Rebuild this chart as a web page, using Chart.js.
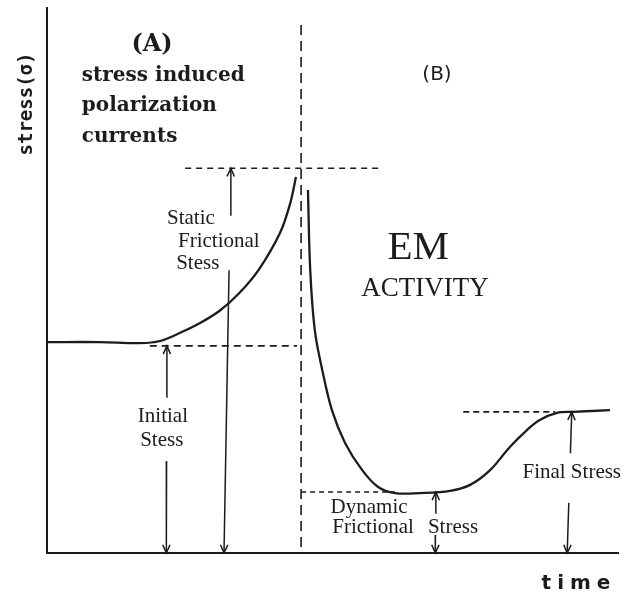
<!DOCTYPE html>
<html>
<head>
<meta charset="utf-8">
<script src="https://cdn.jsdelivr.net/npm/chart.js@4/dist/chart.umd.min.js"></script>
<style>
  html, body { margin: 0; padding: 0; background: #fff; }
  #wrap { width: 627px; height: 598px; }
</style>
</head>
<body>
<div id="wrap"><canvas id="chart" width="627" height="598"></canvas></div>
<script>
// Stress vs time (schematic), time and stress in arbitrary units 0..100

// stage A: stress build-up before slip
const stageATime   = [0, 9.3, 16.3, 19.8, 23.3, 26.8, 30.3, 33.6, 37.1, 40.8, 42.6, 43.6];
const stageAStress = [38.7, 38.7, 38.5, 38.9, 40.4, 42.2, 44.5, 47.6, 52.0, 58.7, 64.2, 69.0];

// stage B: stress drop and recovery
const stageBTime   = [45.7, 46.1, 46.9, 48.2, 49.9, 52.2, 55.2, 58.0, 60.9, 65.3, 70.6, 74.1, 77.6, 81.1, 84.1, 86.3, 89.3, 92.1, 98.6];
const stageBStress = [66.6, 51.9, 40.9, 33.6, 26.2, 20.2, 15.2, 12.1, 11.0, 11.0, 11.4, 12.5, 15.2, 19.5, 22.6, 24.4, 25.7, 25.9, 26.2];

// stress levels
const staticStress  = 70.6;
const initialStress = 38.0;
const dynamicStress = 11.2;
const finalStress   = 25.9;

// divider between stage A and B
const dividerTime = 44.5;

// dashed reference lines: [startTime, endTime]
const staticRange  = [24.2, 58.8];
const initialRange = [18.0, 43.8];
const dynamicRange = [44.5, 60.9];
const finalRange   = [72.9, 89.0];

// arrows: time at top / bottom, gap around the label (stress)
const arrowNames   = ["initial", "static", "dynamic", "final"];
const arrowTopT    = [21.0, 32.2, 68.1, 91.9];
const arrowBotT    = [20.9, 31.0, 68.0, 91.1];
const arrowTopS    = [initialStress, staticStress, dynamicStress, finalStress];
const arrowGapTop  = [28.6, 62.0, 7.3, 18.3];
const arrowGapBot  = [16.9, 51.9, 3.3, 9.2];

const INK = "#1c1c1c";

function pts(xs, ys) {
  return xs.map((x, i) => ({ x: x, y: ys[i] }));
}

function lerp(a, b, f) { return a + (b - a) * f; }

const datasets = [];

// curves
datasets.push({ data: pts(stageATime, stageAStress), borderWidth: 2.3, tension: 0.35 });
datasets.push({ data: pts(stageBTime, stageBStress), borderWidth: 2.3, tension: 0.35 });

// dashed lines
datasets.push({ data: [{ x: dividerTime, y: 96.9 }, { x: dividerTime, y: 0.5 }], borderDash: [10, 6], borderWidth: 1.6 });
datasets.push({ data: [{ x: staticRange[0], y: staticStress }, { x: staticRange[1], y: staticStress }], borderDash: [6, 5], borderWidth: 1.6 });
datasets.push({ data: [{ x: initialRange[0], y: initialStress }, { x: initialRange[1], y: initialStress }], borderDash: [7, 5], borderWidth: 1.6 });
datasets.push({ data: [{ x: dynamicRange[0], y: dynamicStress }, { x: dynamicRange[1], y: dynamicStress }], borderDash: [5, 4], borderWidth: 1.6 });
datasets.push({ data: [{ x: finalRange[0], y: finalStress }, { x: finalRange[1], y: finalStress }], borderDash: [6, 4], borderWidth: 1.6 });

// arrows, split around their labels
arrowNames.forEach((name, i) => {
  const tAt = s => lerp(arrowBotT[i], arrowTopT[i], s / arrowTopS[i]);
  datasets.push({
    data: [{ x: tAt(arrowGapTop[i]), y: arrowGapTop[i] }, { x: arrowTopT[i], y: arrowTopS[i] }],
    borderWidth: 1.5, arrow: "end"
  });
  datasets.push({
    data: [{ x: tAt(arrowGapBot[i]), y: arrowGapBot[i] }, { x: arrowBotT[i], y: 0 }],
    borderWidth: 1.5, arrow: "end"
  });
});

datasets.forEach(d => {
  d.showLine = true;
  d.pointRadius = 0;
  d.pointHoverRadius = 0;
  d.borderColor = INK;
  d.fill = false;
  d.clip = false;
});

// text labels, in data units
const labels = [
  { text: "(A)", t: 18.4, s: 93.2, font: "bold 24px 'DejaVu Serif'", align: "center" },
  { text: "stress induced", t: 6.1, s: 87.5, font: "bold 20px 'DejaVu Serif'", align: "left" },
  { text: "polarization", t: 6.1, s: 82.0, font: "bold 20px 'DejaVu Serif'", align: "left" },
  { text: "currents", t: 6.1, s: 76.3, font: "bold 20px 'DejaVu Serif'", align: "left" },
  { text: "(B)", t: 68.3, s: 87.7, font: "20px 'DejaVu Sans'", align: "center" },
  { text: "EM", t: 65.0, s: 56.0, font: "41px 'Liberation Serif'", align: "center" },
  { text: "ACTIVITY", t: 66.2, s: 48.4, font: "27px 'Liberation Serif'", align: "center" },
  { text: "Static", t: 25.2, s: 61.3, font: "21px 'Liberation Serif'", align: "center" },
  { text: "Frictional", t: 30.1, s: 57.2, font: "21px 'Liberation Serif'", align: "center" },
  { text: "Stess", t: 26.4, s: 53.1, font: "21px 'Liberation Serif'", align: "center" },
  { text: "Initial", t: 20.3, s: 25.0, font: "21px 'Liberation Serif'", align: "center" },
  { text: "Stess", t: 20.1, s: 20.7, font: "21px 'Liberation Serif'", align: "center" },
  { text: "Dynamic", t: 56.4, s: 8.4, font: "21px 'Liberation Serif'", align: "center" },
  { text: "Frictional", t: 57.1, s: 4.6, font: "21px 'Liberation Serif'", align: "center" },
  { text: "Stress", t: 71.1, s: 4.6, font: "21px 'Liberation Serif'", align: "center" },
  { text: "Final Stress", t: 91.9, s: 14.7, font: "21px 'Liberation Serif'", align: "center" }
];

const arrowHeads = {
  id: "arrowHeads",
  afterDatasetsDraw(chart) {
    const ctx = chart.ctx;
    chart.data.datasets.forEach((ds, i) => {
      if (!ds.arrow) return;
      const pe = chart.getDatasetMeta(i).data;
      const a = pe[pe.length - 2], b = pe[pe.length - 1];
      const ang = Math.atan2(b.y - a.y, b.x - a.x);
      const len = 9, half = 0.42;
      ctx.save();
      ctx.strokeStyle = INK;
      ctx.lineWidth = 1.5;
      ctx.beginPath();
      ctx.moveTo(b.x - len * Math.cos(ang - half), b.y - len * Math.sin(ang - half));
      ctx.lineTo(b.x, b.y);
      ctx.lineTo(b.x - len * Math.cos(ang + half), b.y - len * Math.sin(ang + half));
      ctx.stroke();
      ctx.restore();
    });
  }
};

const textLabels = {
  id: "textLabels",
  afterDraw(chart) {
    const ctx = chart.ctx;
    const xs = chart.scales.x, ys = chart.scales.y;
    const area = chart.chartArea;
    ctx.save();
    ctx.fillStyle = INK;
    ctx.textBaseline = "middle";
    labels.forEach(l => {
      ctx.font = l.font;
      ctx.textAlign = l.align;
      ctx.fillText(l.text, xs.getPixelForValue(l.t), ys.getPixelForValue(l.s));
    });

    // axis titles
    ctx.save();
    ctx.translate(area.left - 20, area.top + 96);
    ctx.rotate(-Math.PI / 2);
    ctx.font = "bold 19px 'DejaVu Sans Mono'";
    ctx.textAlign = "center";
    ctx.fillText("stress(σ)", 0, 0);
    ctx.restore();

    ctx.font = "bold 20px 'DejaVu Sans'";
    ctx.textAlign = "center";
    ctx.letterSpacing = "6px";
    ctx.fillText("time", area.right - 39, area.bottom + 31);
    ctx.restore();
  }
};

new Chart(document.getElementById("chart"), {
  type: "scatter",
  data: { datasets: datasets },
  options: {
    responsive: false,
    animation: false,
    devicePixelRatio: 1,
    layout: { padding: { left: 47, top: 8, right: 9, bottom: 45 } },
    plugins: { legend: { display: false }, tooltip: { enabled: false } },
    scales: {
      x: {
        type: "linear", min: 0, max: 100,
        grid: { display: false, drawTicks: false },
        ticks: { display: false },
        border: { display: true, color: INK, width: 2 }
      },
      y: {
        type: "linear", min: 0, max: 100,
        grid: { display: false, drawTicks: false },
        ticks: { display: false },
        border: { display: true, color: INK, width: 2 }
      }
    }
  },
  plugins: [arrowHeads, textLabels]
});
</script>
</body>
</html>
